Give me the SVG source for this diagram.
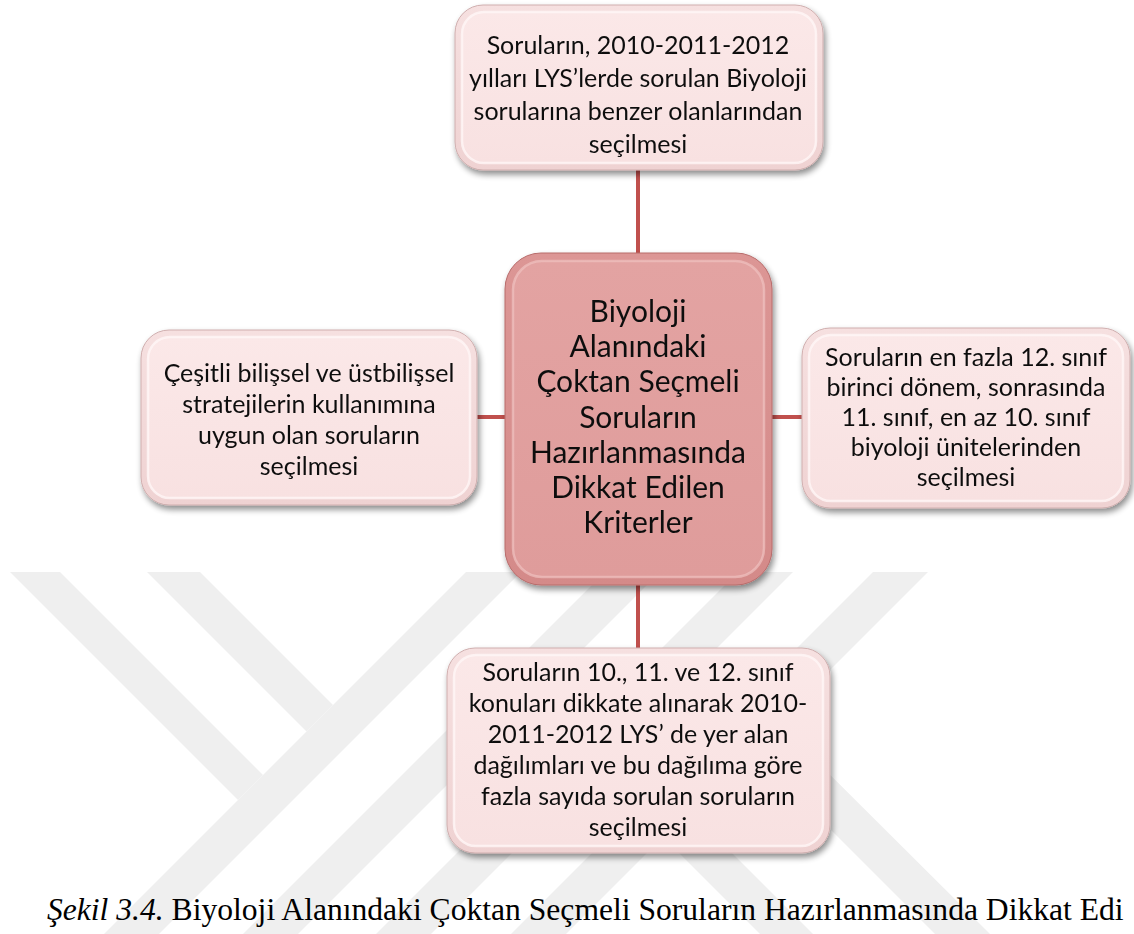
<svg xmlns="http://www.w3.org/2000/svg" width="1134" height="934" viewBox="0 0 1134 934">
<style>
.wm{fill:#efefef;stroke:none}
.t{font-family:Lato,"Open Sans","DejaVu Sans",sans-serif;font-size:25px;fill:#111;text-anchor:middle}
.tc{font-family:Lato,"Open Sans","DejaVu Sans",sans-serif;font-size:30px;fill:#111;text-anchor:middle}
.conn{stroke:#c0504d;stroke-width:4;fill:none}
.cap{font-family:"Liberation Serif","Times New Roman",serif;font-size:31.6px;fill:#000}
.outer{fill:url(#gLight);stroke:#cfaeae;stroke-width:1}
.inner{fill:url(#gLightIn);stroke:#fff6f6;stroke-width:2.5;stroke-opacity:0.8}
.couter{fill:url(#gDark);stroke:#b86c6b;stroke-width:1}
.cinner{fill:url(#gDarkIn);stroke:#f0c2c1;stroke-width:2.5;stroke-opacity:0.7}
</style>
<defs>
<filter id="sh" x="-10%" y="-10%" width="125%" height="130%">
<feGaussianBlur in="SourceAlpha" stdDeviation="3"/>
<feOffset dx="2" dy="4" result="b"/>
<feComponentTransfer><feFuncA type="linear" slope="0.45"/></feComponentTransfer>
<feMerge><feMergeNode/><feMergeNode in="SourceGraphic"/></feMerge>
</filter>
<linearGradient id="gLight" x1="0" y1="0" x2="0" y2="1">
<stop offset="0" stop-color="#f6e0e0"/><stop offset="1" stop-color="#efd2d2"/>
</linearGradient>
<linearGradient id="gLightIn" x1="0" y1="0" x2="0" y2="1">
<stop offset="0" stop-color="#fbe8e8"/><stop offset="1" stop-color="#f8e1e1"/>
</linearGradient>
<linearGradient id="gDark" x1="0" y1="0" x2="0" y2="1">
<stop offset="0" stop-color="#dc9695"/><stop offset="1" stop-color="#d48a89"/>
</linearGradient>
<linearGradient id="gDarkIn" x1="0" y1="0" x2="0" y2="1">
<stop offset="0" stop-color="#e3a3a2"/><stop offset="1" stop-color="#df9c9b"/>
</linearGradient>
</defs>
<rect width="1134" height="934" fill="#ffffff"/>
<g id="watermark">
<polygon class="wm" points="10,572 60,572 263,775 238,800"/>
<polygon class="wm" points="147,572 200,572 333,705 306.5,731.5"/>
<polygon class="wm" points="466,572 521,572 159,934 104,934"/>
<polygon class="wm" points="605,572 660,572 298,934 243,934"/>
<polygon class="wm" points="738,572 793,572 431,934 376,934"/>
<polygon class="wm" points="873,572 928,572 566,934 511,934"/>
<polygon class="wm" points="660,834 687,808 813,934 760,934"/>
<polygon class="wm" points="748,747 775,720 990,934 935,934"/>
</g>
<g id="connectors">
<line class="conn" x1="638" y1="168" x2="638" y2="256"/>
<line class="conn" x1="638" y1="582" x2="638" y2="650"/>
<line class="conn" x1="475" y1="417" x2="508" y2="417"/>
<line class="conn" x1="769" y1="417" x2="804" y2="417"/>
</g>
<g id="node-top" filter="url(#sh)">
<rect class="outer" x="455" y="5" width="368" height="165" rx="28"/>
<rect class="inner" x="462" y="12" width="354" height="151" rx="22"/>
<text class="t" x="638" y="54">Soruların, 2010-2011-2012</text>
<text class="t" x="638" y="87">yılları LYS’lerde sorulan Biyoloji</text>
<text class="t" x="638" y="120">sorularına benzer olanlarından</text>
<text class="t" x="638" y="153">seçilmesi</text>
</g>
<g id="node-left" filter="url(#sh)">
<rect class="outer" x="141" y="330" width="336" height="175" rx="28"/>
<rect class="inner" x="148" y="337" width="322" height="161" rx="22"/>
<text class="t" x="309" y="382">Çeşitli bilişsel ve üstbilişsel</text>
<text class="t" x="309" y="413">stratejilerin kullanımına</text>
<text class="t" x="309" y="444">uygun olan soruların</text>
<text class="t" x="309" y="475">seçilmesi</text>
</g>
<g id="node-right" filter="url(#sh)">
<rect class="outer" x="802" y="328" width="328" height="180" rx="28"/>
<rect class="inner" x="809" y="335" width="314" height="166" rx="22"/>
<text class="t" x="966" y="366">Soruların en fazla 12. sınıf</text>
<text class="t" x="966" y="396">birinci dönem, sonrasında</text>
<text class="t" x="966" y="426">11. sınıf, en az 10. sınıf</text>
<text class="t" x="966" y="456">biyoloji ünitelerinden</text>
<text class="t" x="966" y="486">seçilmesi</text>
</g>
<g id="node-bottom" filter="url(#sh)">
<rect class="outer" x="447" y="648" width="383" height="205" rx="28"/>
<rect class="inner" x="454" y="655" width="369" height="191" rx="22"/>
<text class="t" x="638" y="681">Soruların 10., 11. ve 12. sınıf</text>
<text class="t" x="638" y="712">konuları dikkate alınarak 2010-</text>
<text class="t" x="638" y="743">2011-2012 LYS’ de yer alan</text>
<text class="t" x="638" y="774">dağılımları ve bu dağılıma göre</text>
<text class="t" x="638" y="805">fazla sayıda sorulan soruların</text>
<text class="t" x="638" y="836">seçilmesi</text>
</g>
<g id="node-center" filter="url(#sh)">
<rect class="couter" x="505" y="253" width="267" height="332" rx="36"/>
<rect class="cinner" x="513" y="261" width="251" height="316" rx="29"/>
<text class="tc" x="638" y="322">Biyoloji</text>
<text class="tc" x="638" y="357">Alanındaki</text>
<text class="tc" x="638" y="392">Çoktan Seçmeli</text>
<text class="tc" x="638" y="428">Soruların</text>
<text class="tc" x="638" y="463">Hazırlanmasında</text>
<text class="tc" x="638" y="498">Dikkat Edilen</text>
<text class="tc" x="638" y="533">Kriterler</text>
</g>
<text class="cap" x="47" y="920"><tspan font-style="italic">Şekil 3.4.</tspan> Biyoloji Alanındaki Çoktan Seçmeli Soruların Hazırlanmasında Dikkat Edi</text>
</svg>
